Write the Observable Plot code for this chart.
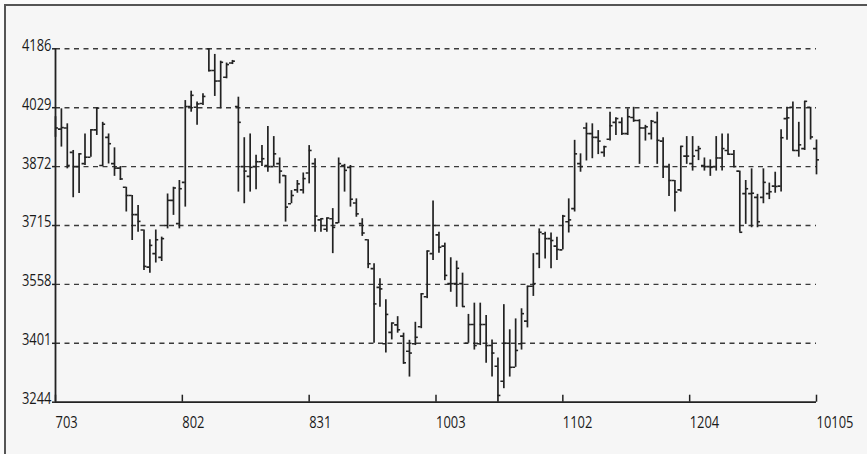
<!DOCTYPE html>
<html><head><meta charset="utf-8">
<script src="https://cdn.jsdelivr.net/npm/d3@7"></script>
<script src="https://cdn.jsdelivr.net/npm/@observablehq/plot@0.6"></script>
<style>
html,body{margin:0;padding:0;background:#fbfbfb;}
#wrap{position:relative;width:867px;height:454px;overflow:hidden;background:#fbfbfb;}
#frame{position:absolute;left:4px;top:4px;width:900px;height:500px;border:2px solid #555;background:#f6f6f6;}
#chart{position:absolute;left:0;top:0;}
</style></head><body>
<div id="wrap"><div id="frame"></div><div id="chart"></div></div>
<script>
const opens = [3990,3972,3975,3910,3872,3880,3897,3970,3875,3950,3880,3868,3817,3795,3744,3703,3604,3640,3630,3715,
3782,3720,3830,4032,4030,4040,4186,4128,4100,4110,4148,4032,3872,3846,3872,3885,3875,3872,3880,3848,
3773,3810,3810,3855,3880,3730,3705,3733,3722,3875,3870,3775,3720,3677,3600,3550,3400,3430,3450,3420,
3380,3400,3445,3525,3640,3690,3660,3560,3560,3560,3401,3451,3400,3451,3395,3340,3300,3401,3337,3400,
3460,3553,3640,3693,3680,3660,3650,3725,3760,3880,3975,3960,3950,3910,3945,3990,3990,3960,4003,3995,
3975,3960,3990,3940,3872,3835,3810,3900,3880,3915,3875,3872,3872,3895,3915,3905,3860,3800,3800,3790,
3790,3800,3820,3820,4000,4030,3915,3920,4030,3920];
const highs = [4005,4026,3986,3915,3906,3959,3970,4028,3990,3959,3922,3872,3817,3795,3768,3703,3677,3703,3684,3799,
3817,3835,4048,4073,4044,4066,4186,4171,4153,4148,4155,4057,3949,3959,3902,3928,3979,3952,3895,3848,
3808,3835,3855,3928,3893,3733,3735,3760,3895,3878,3875,3786,3733,3677,3613,3573,3517,3455,3472,3428,
3409,3457,3533,3647,3780,3697,3668,3629,3620,3588,3478,3508,3508,3475,3410,3362,3504,3437,3466,3493,
3553,3640,3706,3697,3695,3684,3742,3786,3942,3906,3988,3986,3968,3926,4017,4002,4002,4026,4030,3997,
3982,3995,4017,3949,3878,3835,3926,3952,3952,3926,3895,3890,3952,3959,3959,3915,3860,3835,3866,3798,
3866,3828,3857,3970,4030,4044,3990,4046,4030,3943];
const lows = [3950,3924,3866,3789,3800,3875,3897,3955,3872,3879,3846,3835,3751,3675,3697,3595,3588,3615,3619,3706,
3742,3706,3764,4017,3982,4035,4124,4059,4026,4106,4144,3804,3773,3804,3810,3872,3857,3872,3826,3724,
3773,3801,3799,3826,3697,3697,3697,3640,3720,3804,3764,3737,3686,3600,3401,3497,3375,3410,3428,3345,
3311,3395,3440,3520,3622,3641,3568,3537,3497,3497,3401,3383,3395,3348,3311,3244,3280,3311,3337,3383,
3442,3526,3600,3626,3600,3622,3650,3695,3751,3857,3887,3893,3904,3897,3940,3955,3955,3955,3990,3878,
3940,3943,3878,3840,3792,3751,3804,3878,3860,3888,3860,3846,3860,3860,3902,3869,3697,3718,3709,3709,
3773,3784,3801,3804,3942,3913,3897,3915,3943,3850];
const closes = [3975,3976,3875,3872,3906,3897,3970,4028,3985,3933,3868,3839,3795,3744,3726,3606,3662,3677,3680,3782,
3815,3813,4032,4062,4039,4059,4128,4100,4150,4144,4153,3990,3860,3870,3885,3893,3872,3906,3860,3764,
3795,3826,3840,3915,3740,3733,3735,3710,3880,3862,3785,3746,3695,3613,3506,3546,3478,3455,3437,3349,
3375,3417,3533,3647,3715,3657,3582,3560,3601,3499,3451,3395,3451,3395,3375,3262,3401,3337,3382,3480,
3553,3560,3697,3680,3675,3651,3740,3730,3906,3872,3960,3950,3940,3925,3981,4000,3960,4005,3995,3975,
3978,3993,3942,3872,3835,3804,3926,3900,3900,3920,3872,3870,3895,3920,3905,3872,3697,3813,3801,3725,
3830,3805,3819,3949,4002,3915,3930,4046,3951,3890];
const xTickLabels = ["703","802","831","1003","1102","1204","10105"];
const yTicks = [3244,3401,3558,3715,3872,4029,4186];

const bars = opens.map((o, i) => ({i, open: o, high: highs[i], low: lows[i], close: closes[i]}));
const n = bars.length;
const xTickPos = xTickLabels.map((_, k) => k * (n - 1) / (xTickLabels.length - 1));
const labelOf = new Map(xTickPos.map((p, k) => [p, xTickLabels[k]]));

const W = 867, H = 454, mL = 55, mR = 51, mT = 48.3, mB = 52.3;
const plotH = H - mT - mB, plotW = W - mL - mR;
const FONT = "'Open Sans', 'Noto Sans', sans-serif";
const FS = 17;
const ink = "#222";

const chart = Plot.plot({
  width: W, height: H,
  marginLeft: mL, marginRight: mR, marginTop: mT, marginBottom: mB,
  x: {domain: [0, n - 1], axis: null},
  y: {domain: [yTicks[0], yTicks[yTicks.length - 1]], axis: null},
  style: {background: "transparent", fontFamily: FONT, fontSize: FS + "px", color: "#1a1a1a", overflow: "visible"},
  marks: [
    Plot.ruleY(yTicks.slice(1), {y: d => d, stroke: "#3a3a3a", strokeWidth: 1.4, strokeDasharray: "5,4.5"}),
    Plot.ruleX(bars, {x: "i", y1: "low", y2: "high", stroke: ink, strokeWidth: 1.7}),
    Plot.ruleY(bars, {y: "open", x1: d => d.i - 0.5, x2: "i", stroke: ink, strokeWidth: 1.6, clip: true}),
    Plot.ruleY(bars, {y: "close", x1: "i", x2: d => d.i + 0.5, stroke: ink, strokeWidth: 1.6}),
    Plot.ruleX([0], {x: d => d, stroke: ink, strokeWidth: 1.8}),
    Plot.ruleY([yTicks[0]], {y: d => d, stroke: ink, strokeWidth: 1.8}),
    Plot.ruleX(xTickPos, {x: d => d, insetTop: plotH - 7, stroke: ink, strokeWidth: 1.5}),
    Plot.ruleY(yTicks, {y: d => d, dx: -3, insetRight: plotW - 3, stroke: ink, strokeWidth: 1.5}),
    Plot.text(yTicks, {y: d => d, text: d => String(d), frameAnchor: "left", dx: -4, dy: -3.5, textAnchor: "end", fontSize: FS, fontFamily: FONT, fill: "#1a1a1a"}),
    Plot.text(xTickPos, {x: d => d, text: d => labelOf.get(d), frameAnchor: "bottom", dy: 13.3, lineAnchor: "top", textAnchor: "start", fontSize: FS, fontFamily: FONT, fill: "#1a1a1a"})
  ]
});
// condense the humanist face horizontally to match the narrow label font
chart.querySelectorAll("text").forEach(t => {
  const tr = t.getAttribute("transform");
  if (tr) t.setAttribute("transform", tr + " scale(0.76,1)");
  else {
    const x = +(t.getAttribute("x") || 0), y = +(t.getAttribute("y") || 0);
    t.removeAttribute("x"); t.removeAttribute("y");
    t.setAttribute("transform", `translate(${x},${y}) scale(0.76,1)`);
  }
});
document.getElementById("chart").appendChild(chart);
</script>
</body></html>
